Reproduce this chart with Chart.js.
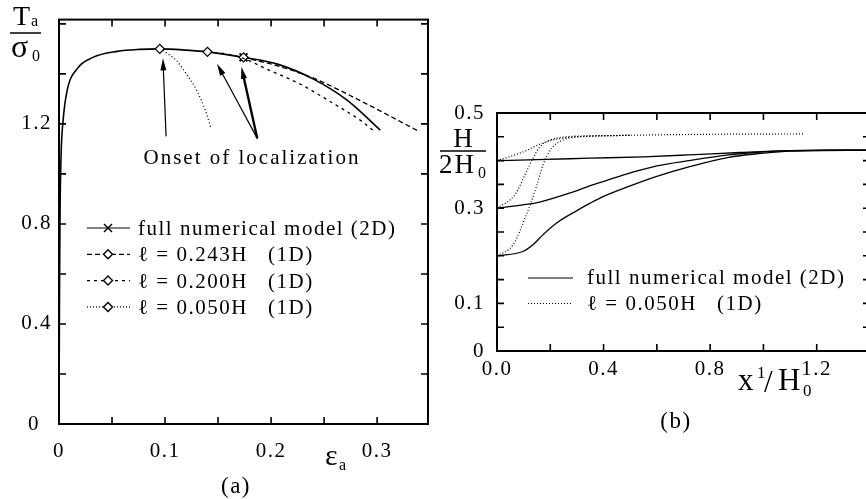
<!DOCTYPE html>
<html>
<head>
<meta charset="utf-8">
<script src="https://cdn.jsdelivr.net/npm/chart.js@4.4.1/dist/chart.umd.min.js"></script>
<style>
  html, body { margin: 0; padding: 0; background: #fff; width: 866px; height: 499px; overflow: hidden; }
  #ca { position: absolute; left: 0; top: 0; }
  #cb { position: absolute; left: 436px; top: 0; }
</style>
</head>
<body>
<canvas id="ca" width="440" height="499"></canvas>
<canvas id="cb" width="440" height="499"></canvas>
<script>
// ===== (a) T_a/sigma_0 vs eps_a =====
const strainFull = [0, 0.0005, 0.001, 0.002, 0.0038, 0.0075, 0.017, 0.032, 0.055, 0.076, 0.095, 0.12, 0.14, 0.174, 0.206, 0.24, 0.272, 0.303];
const stressFull = [0, 0.55, 0.85, 1.08, 1.21, 1.33, 1.42, 1.466, 1.49, 1.498, 1.50, 1.495, 1.488, 1.466, 1.439, 1.379, 1.294, 1.175];
const strain243 = [0.174, 0.206, 0.24, 0.29, 0.34];
const stress243 = [1.466, 1.432, 1.383, 1.28, 1.169];
const strain200 = [0.14, 0.16, 0.174, 0.196, 0.227, 0.259, 0.284, 0.296];
const stress200 = [1.488, 1.478, 1.462, 1.419, 1.36, 1.281, 1.215, 1.175];
const strain050 = [0.095, 0.101, 0.111, 0.12, 0.13, 0.138, 0.143];
const stress050 = [1.50, 1.485, 1.452, 1.40, 1.333, 1.254, 1.188];
const onsetFull = 0.174;

const xTickValsA = [0, 0.1, 0.2, 0.3];
const xTickLabsA = ['0', '0.1', '0.2', '0.3'];
const yTickValsA = [0, 0.4, 0.8, 1.2];
const yTickLabsA = ['0\u2007', '0.4', '0.8', '1.2'];

// ===== (b) H/2H_0 vs x^1/H_0 =====
const xFullTop = [0, 0.15, 0.348, 0.55, 0.72, 0.91, 1.095, 1.25, 1.4];
const hFullTop = [0.400, 0.402, 0.405, 0.408, 0.412, 0.417, 0.421, 0.422, 0.422];
const xFullMid = [0, 0.097, 0.16, 0.284, 0.348, 0.41, 0.5, 0.6, 0.72, 0.87, 0.97, 1.1, 1.4];
const hFullMid = [0.300, 0.307, 0.313, 0.334, 0.347, 0.358, 0.374, 0.389, 0.400, 0.412, 0.417, 0.421, 0.422];
const xFullLow = [0, 0.097, 0.135, 0.172, 0.224, 0.3, 0.348, 0.4, 0.5, 0.6, 0.72, 0.87, 0.99, 1.1, 1.4];
const hFullLow = [0.200, 0.209, 0.223, 0.244, 0.269, 0.295, 0.31, 0.325, 0.347, 0.367, 0.387, 0.407, 0.415, 0.42, 0.422];
const x1DTop = [0, 0.097, 0.172, 0.224, 0.30, 0.4, 0.74, 1.15];
const h1DTop = [0.400, 0.418, 0.437, 0.445, 0.450, 0.452, 0.455, 0.456];
const x1DMid = [0, 0.067, 0.11, 0.135, 0.16, 0.198, 0.26, 0.35, 0.5];
const h1DMid = [0.300, 0.328, 0.376, 0.405, 0.428, 0.443, 0.450, 0.452, 0.453];
const x1DLow = [0, 0.06, 0.11, 0.15, 0.172, 0.205, 0.247, 0.31, 0.5];
const h1DLow = [0.200, 0.223, 0.286, 0.349, 0.39, 0.426, 0.443, 0.45, 0.453];

const xTickValsB = [0, 0.4, 0.8, 1.2];
const xTickLabsB = ['0.0', '0.4', '0.8', '1.2'];
const yTickValsB = [0, 0.1, 0.3, 0.5];
const yTickLabsB = ['0', '0.1', '0.3', '0.5'];

const FONT = '"Liberation Serif", "Times New Roman", serif';
const pts = (xs, ys) => xs.map((x, i) => ({ x, y: ys[i] }));
const pickLabel = (vals, labs) => v => {
  const i = vals.findIndex(t => Math.abs(t - v) < 1e-9);
  return i < 0 ? '' : labs[i];
};

function txt(ctx, s, x, y, size, align, italic) {
  ctx.font = (italic ? 'italic ' : '') + size + 'px ' + FONT;
  ctx.textAlign = align || 'left';
  ctx.textBaseline = 'alphabetic';
  ctx.fillStyle = '#000';
  ctx.fillText(s, x, y);
}

function diamond(ctx, x, y, r) {
  ctx.beginPath();
  ctx.moveTo(x, y - r); ctx.lineTo(x + r, y); ctx.lineTo(x, y + r); ctx.lineTo(x - r, y); ctx.closePath();
  ctx.fillStyle = '#fff'; ctx.fill(); ctx.setLineDash([]); ctx.stroke();
}

function arrow(ctx, x0, y0, x1, y1, w) {
  const ang = Math.atan2(y1 - y0, x1 - x0), L = 12, H = 3;
  ctx.lineWidth = w; ctx.setLineDash([]);
  ctx.beginPath(); ctx.moveTo(x0, y0);
  ctx.lineTo(x1 - L * Math.cos(ang) * 0.8, y1 - L * Math.sin(ang) * 0.8); ctx.stroke();
  ctx.beginPath();
  ctx.moveTo(x1, y1);
  ctx.lineTo(x1 - L * Math.cos(ang) + H * Math.sin(ang), y1 - L * Math.sin(ang) - H * Math.cos(ang));
  ctx.lineTo(x1 - L * Math.cos(ang) - H * Math.sin(ang), y1 - L * Math.sin(ang) + H * Math.cos(ang));
  ctx.closePath(); ctx.fillStyle = '#000'; ctx.fill();
}

// frame with inward ticks on all four sides
const frameTicks = {
  id: 'frameTicks',
  beforeDraw(chart) { chart.ctx.letterSpacing = '1.5px'; },
  beforeDatasetsDraw(chart) {
    const { ctx, chartArea: a, scales: { x, y } } = chart;
    const L = 7;
    ctx.save();
    ctx.strokeStyle = '#000';
    ctx.lineWidth = 1.6;
    ctx.beginPath();
    x.ticks.forEach(t => {
      const px = x.getPixelForValue(t.value);
      ctx.moveTo(px, a.bottom); ctx.lineTo(px, a.bottom - L);
      ctx.moveTo(px, a.top); ctx.lineTo(px, a.top + L);
    });
    y.ticks.forEach(t => {
      const py = y.getPixelForValue(t.value);
      ctx.moveTo(a.left, py); ctx.lineTo(a.left + L, py);
      ctx.moveTo(a.right, py); ctx.lineTo(a.right - L, py);
    });
    ctx.stroke();
    ctx.lineWidth = 2;
    ctx.strokeRect(a.left, a.top, a.right - a.left, a.bottom - a.top);
    ctx.restore();
  }
};

// annotations of panel (a)
const decoA = {
  id: 'decoA',
  afterDraw(chart) {
    const { ctx, scales: { x, y } } = chart;
    ctx.save();
    ctx.letterSpacing = '0px';
    txt(ctx, 'T', 13, 25, 28);
    txt(ctx, 'a', 31, 26, 16);
    ctx.strokeStyle = '#000'; ctx.lineWidth = 1.5;
    ctx.beginPath(); ctx.moveTo(10, 33); ctx.lineTo(41, 33); ctx.stroke();
    txt(ctx, '\u03c3', 11, 57, 32);
    txt(ctx, '0', 32, 61, 16);
    txt(ctx, '\u03b5', 325, 465, 30);
    txt(ctx, 'a', 339, 470, 16);
    ctx.letterSpacing = '1.5px';
    txt(ctx, '(a)', 236, 493, 23, 'center');

    // onset arrows + label
    ctx.letterSpacing = '2px';
    txt(ctx, 'Onset of localization', x.getPixelForValue(0.182), y.getPixelForValue(1.04), 21, 'center');
    ctx.strokeStyle = '#000'; ctx.fillStyle = '#000';
    const tx = x.getPixelForValue(0.187), ty = y.getPixelForValue(1.142);
    arrow(ctx, x.getPixelForValue(0.101), y.getPixelForValue(1.15), x.getPixelForValue(0.098), y.getPixelForValue(1.462), 1.2);
    arrow(ctx, tx, ty, x.getPixelForValue(0.149), y.getPixelForValue(1.44), 1.2);
    arrow(ctx, tx, ty, x.getPixelForValue(0.172), y.getPixelForValue(1.428), 2.4);

    // legend
    const rows = [
      { dash: [], mark: 'x', label: 'full numerical model (2D)' },
      { dash: [5, 3], mark: 'd', label: '\u2113 = 0.243H   (1D)' },
      { dash: [3, 4], mark: 'd', label: '\u2113 = 0.200H   (1D)' },
      { dash: [1, 2], mark: 'd', label: '\u2113 = 0.050H   (1D)' }
    ];
    rows.forEach((r, i) => {
      const ly = 228 + i * 26.3;
      ctx.lineWidth = 1.2; ctx.setLineDash(r.dash);
      ctx.beginPath(); ctx.moveTo(87, ly); ctx.lineTo(130, ly); ctx.stroke();
      ctx.setLineDash([]);
      if (r.mark === 'x') {
        ctx.lineWidth = 1.5; ctx.beginPath();
        ctx.moveTo(104, ly - 4); ctx.lineTo(112, ly + 4); ctx.moveTo(112, ly - 4); ctx.lineTo(104, ly + 4); ctx.stroke();
      } else {
        ctx.lineWidth = 1.4; diamond(ctx, 108, ly, 4.5);
      }
      ctx.letterSpacing = '1.5px';
      txt(ctx, r.label, 138, ly + 7, 21);
    });
    ctx.restore();
  }
};

// annotations of panel (b)
const decoB = {
  id: 'decoB',
  afterDraw(chart) {
    const { ctx } = chart;
    ctx.save();
    ctx.letterSpacing = '0px';
    txt(ctx, 'H', 27, 147, 27, 'center');
    ctx.strokeStyle = '#000'; ctx.lineWidth = 1.5;
    ctx.beginPath(); ctx.moveTo(4, 151); ctx.lineTo(50, 151); ctx.stroke();
    ctx.letterSpacing = '2px';
    txt(ctx, '2H', 3, 173, 27);
    ctx.letterSpacing = '0px';
    txt(ctx, '0', 42, 178, 16);
    txt(ctx, 'x', 302, 390, 31);
    txt(ctx, '1', 321, 378, 17);
    txt(ctx, '/', 328, 392, 31);
    txt(ctx, 'H', 342, 390, 31);
    txt(ctx, '0', 367, 396, 17);
    ctx.letterSpacing = '1.5px';
    txt(ctx, '(b)', 240, 428, 23, 'center');

    const rows = [
      { dash: [], label: 'full numerical model (2D)' },
      { dash: [1, 2], label: '\u2113 = 0.050H   (1D)' }
    ];
    rows.forEach((r, i) => {
      const ly = 278 + i * 25.5;
      ctx.lineWidth = 1; ctx.setLineDash(r.dash);
      ctx.beginPath(); ctx.moveTo(92, ly); ctx.lineTo(137, ly); ctx.stroke();
      ctx.setLineDash([]);
      txt(ctx, r.label, 151, ly + 6, 21);
    });
    ctx.restore();
  }
};

const tickFont = { family: FONT, size: 21 };

function axes(xMin, xMax, xStep, xVals, xLabs, xPad, xH, yMin, yMax, yStep, yVals, yLabs, yPad, yW) {
  return {
    x: {
      type: 'linear', min: xMin, max: xMax,
      grid: { display: false, drawTicks: false }, border: { display: false },
      ticks: { stepSize: xStep, includeBounds: false, autoSkip: false, maxRotation: 0, padding: xPad,
        color: '#000', font: tickFont, callback: pickLabel(xVals, xLabs) },
      afterFit: s => { s.height = xH; }
    },
    y: {
      type: 'linear', min: yMin, max: yMax,
      grid: { display: false, drawTicks: false }, border: { display: false },
      ticks: { stepSize: yStep, includeBounds: false, autoSkip: false, padding: yPad,
        color: '#000', font: tickFont, callback: pickLabel(yVals, yLabs) },
      afterFit: s => { s.width = yW; }
    }
  };
}

const baseOpts = {
  responsive: false,
  animation: false,
  events: [],
  plugins: { legend: { display: false }, tooltip: { enabled: false } }
};

const line = (data, dash, width, extra) => Object.assign({
  data, borderColor: '#000', borderWidth: width, borderDash: dash,
  pointRadius: 0, cubicInterpolationMode: 'monotone', fill: false
}, extra || {});

const markAt = (xs, val, r) => ctx => Math.abs(xs[ctx.dataIndex] - val) < 1e-9 ? r : 0;

new Chart(document.getElementById('ca'), {
  type: 'line',
  data: {
    datasets: [
      line(pts(strain050, stress050), [1, 2.5], 1.3,
        { pointStyle: 'rectRot', pointRadius: markAt(strain050, strain050[0], 4.5), pointBackgroundColor: '#fff', pointBorderColor: '#000', pointBorderWidth: 1.3 }),
      line(pts(strain200, stress200), [3, 4], 1.3,
        { pointStyle: 'rectRot', pointRadius: markAt(strain200, strain200[0], 4.5), pointBackgroundColor: '#fff', pointBorderColor: '#000', pointBorderWidth: 1.3 }),
      line(pts(strain243, stress243), [5, 3], 1.3,
        { pointStyle: 'rectRot', pointRadius: markAt(strain243, strain243[0], 4.5), pointBackgroundColor: '#fff', pointBorderColor: '#000', pointBorderWidth: 1.3 }),
      line(pts(strainFull, stressFull), [], 1.6,
        { pointStyle: 'crossRot', pointRadius: markAt(strainFull, onsetFull, 5.5), pointBorderColor: '#000', pointBorderWidth: 1.8 })
    ]
  },
  options: Object.assign({}, baseOpts, {
    layout: { padding: { left: 0, top: 15, right: 12, bottom: 0 } },
    scales: axes(0, 0.348, 0.05, xTickValsA, xTickLabsA, 15, 75, 0, 1.617, 0.2, yTickValsA, yTickLabsA, 7, 59)
  }),
  plugins: [frameTicks, decoA]
});

new Chart(document.getElementById('cb'), {
  type: 'line',
  data: {
    datasets: [
      line(pts(xFullTop, hFullTop), [], 1.3),
      line(pts(xFullMid, hFullMid), [], 1.3),
      line(pts(xFullLow, hFullLow), [], 1.3),
      line(pts(x1DTop, h1DTop), [1, 2], 1.2),
      line(pts(x1DMid, h1DMid), [1, 2], 1.2),
      line(pts(x1DLow, h1DLow), [1, 2], 1.2)
    ]
  },
  options: Object.assign({}, baseOpts, {
    layout: { padding: { left: 0, top: 113, right: 5, bottom: 0 } },
    scales: axes(0, 1.4, 0.2, xTickValsB, xTickLabsB, 6, 148, 0, 0.5, 0.05, yTickValsB, yTickLabsB, 12, 61)
  }),
  plugins: [frameTicks, decoB]
});
</script>
</body>
</html>
